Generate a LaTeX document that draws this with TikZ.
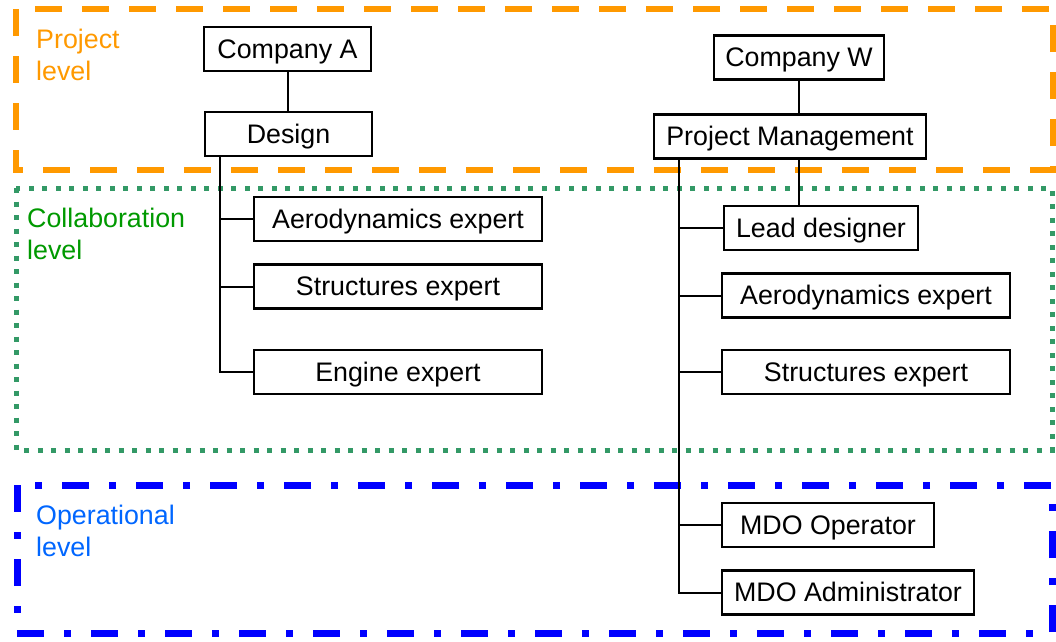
\documentclass[tikz,border=0pt]{standalone}
\usepackage{fontspec}
\setmainfont{Liberation Sans}
\usepackage{xcolor}
\usepackage{tikz}
\usetikzlibrary{positioning,calc}

\definecolor{projorange}{HTML}{FF9900}
\definecolor{collgreen}{HTML}{339966}
\definecolor{colltext}{HTML}{009900}
\definecolor{opblue}{HTML}{0000FF}
\definecolor{optext}{HTML}{0066FF}

\tikzset{
    unit/.style={draw, line width=2.3pt, fill=white, inner sep=0pt,
        text height=24pt, text depth=6pt, minimum height=44pt},
    link/.style={line width=2pt},
    lvl/.style={anchor=base west, inner sep=0pt, align=left}
}

\begin{document}
\begin{tikzpicture}[x=1pt, y=-1pt, font=\fontsize{26.8}{32}\selectfont]
        \useasboundingbox (0,0) rectangle (1056,641);

        % Levels (label base = last line)
        \draw[projorange, line width=6pt, dash pattern=on 27pt off 20pt]
            (16,9) rectangle (1053,170);
        \draw[collgreen, line width=5pt, dash pattern=on 5pt off 8.5pt]
            (16,188) rectangle (1052,450);
        \draw[opblue, line width=7pt, dash pattern=on 27pt off 20pt on 7pt off 20pt]
            (17,485) rectangle (1052,633);
        \node[lvl, projorange] (projlvl) at (36,80) {Project\\level};
        \node[lvl, colltext] (colllvl) at (27,259) {Collaboration\\level};
        \node[lvl, optext] (oplvl) at (36,556) {Operational\\level};

        % Company A
        \node[unit, minimum width=167pt] (compA) at (287.5,49) {Company A};
        \node[unit, minimum width=167pt] (design) at (288.5,134) {Design};
        \node[unit, minimum width=288pt] (aeroA) at (398,219) {Aerodynamics expert};
        \node[unit, minimum width=288pt] (strA) at (398,286.5) {Structures expert};
        \node[unit, minimum width=288pt] (engA) at (398,372) {Engine expert};
        \coordinate (trunkA) at (220,157);
        \draw[link] (compA.south) -- (compA.south |- design.north);
        \draw[link] (trunkA) |- (engA.west);
        \foreach \n in {aeroA,strA}
            \draw[link] (trunkA |- \n.west) -- (\n.west);

        % Company W
        \node[unit, minimum width=170pt] (compW) at (799,57.5) {Company W};
        \node[unit, minimum width=272pt] (pm) at (790,136.5) {Project Management};
        \node[unit, minimum width=194pt] (lead) at (821,228) {Lead designer};
        \node[unit, minimum width=288pt] (aeroW) at (866,295.5) {Aerodynamics expert};
        \node[unit, minimum width=288pt] (strW) at (866,372) {Structures expert};
        \node[unit, minimum width=212pt] (mdoOp) at (828,525) {MDO Operator};
        \node[unit, minimum width=252pt] (mdoAdm) at (848,592.5) {MDO Administrator};
        \coordinate (trunkW) at (679,160);
        \draw[link] (compW.south) -- (compW.south |- pm.north);
        \draw[link] (compW.south |- pm.south) -- (compW.south |- lead.north);
        \draw[link] (trunkW) |- (mdoAdm.west);
        \foreach \n in {lead,aeroW,strW,mdoOp}
            \draw[link] (trunkW |- \n.west) -- (\n.west);
    \end{tikzpicture}
\end{document}
